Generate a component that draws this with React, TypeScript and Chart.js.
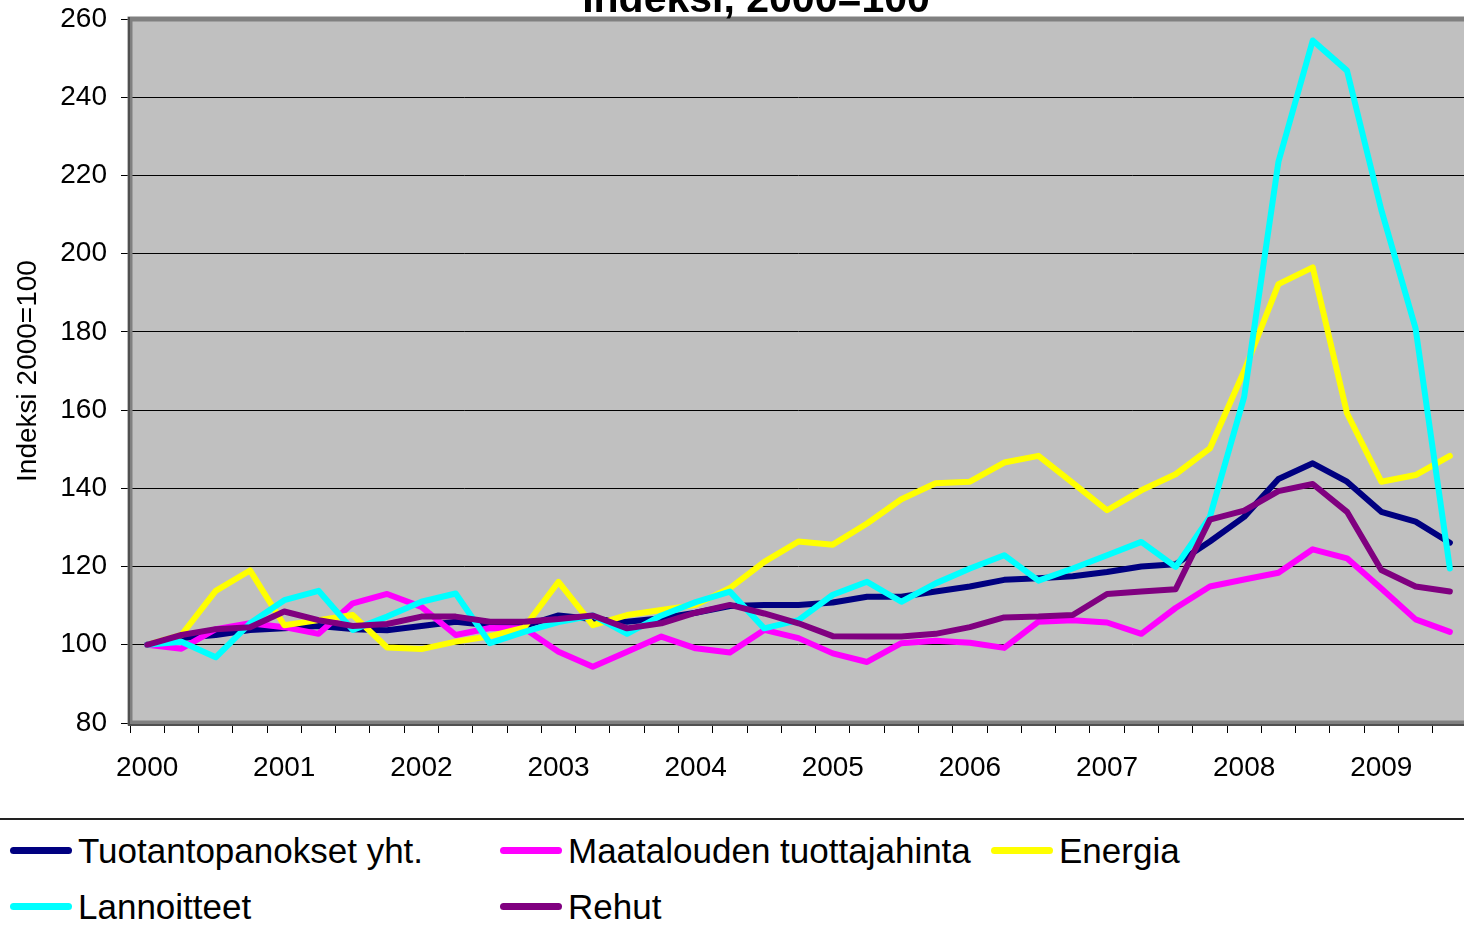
import React, { useEffect, useRef } from "react";
import { Chart, registerables } from "chart.js";

Chart.register(...registerables);

const years = ["2000", "2001", "2002", "2003", "2004", "2005", "2006", "2007", "2008", "2009"];
const quarters = ["Q1", "Q2", "Q3", "Q4"];
const categories = years.flatMap((y) => quarters.map((q) => `${y} ${q}`)).slice(0, 39);

const tuotantopanokset = [100, 101.7, 102.5, 103.8, 104.2, 104.8, 104.0, 103.7, 104.8, 105.9, 105.0, 104.8, 107.5, 106.6, 105.9, 106.8, 108.2, 109.9, 110.2, 110.2, 110.8, 112.3, 112.3, 113.6, 114.9, 116.6, 117.0, 117.5, 118.6, 120.0, 120.6, 126.4, 132.7, 142.4, 146.4, 141.7, 134.0, 131.5, 126.1];
const maatalous = [100, 99.0, 104.0, 105.5, 104.5, 102.8, 110.6, 113.0, 109.7, 102.5, 104.3, 104.2, 98.2, 94.4, 98.2, 102.1, 99.1, 98.0, 103.8, 101.7, 97.8, 95.6, 100.4, 101.0, 100.5, 99.2, 105.9, 106.3, 105.7, 102.8, 109.4, 114.9, 116.7, 118.4, 124.4, 122.1, 114.4, 106.5, 103.3];
const energia = [100, 102.5, 113.8, 119.0, 105.0, 106.3, 107.6, 99.3, 98.9, 100.8, 102.2, 104.4, 116.1, 105.0, 107.6, 108.9, 110.2, 114.5, 121.2, 126.4, 125.6, 131.0, 137.2, 141.3, 141.7, 146.6, 148.3, 141.4, 134.4, 139.5, 143.6, 150.2, 170.0, 192.2, 196.5, 159.2, 141.7, 143.4, 148.3];
const lannoitteet = [100, 100.8, 96.8, 105.5, 111.4, 113.8, 103.8, 107.2, 111.0, 113.1, 100.4, 103.3, 105.8, 107.5, 102.8, 107.5, 110.9, 113.6, 104.2, 106.3, 112.8, 116.1, 111.0, 115.7, 119.5, 122.9, 116.4, 119.5, 122.9, 126.3, 119.9, 132.7, 163.4, 223.5, 254.5, 246.8, 211.2, 180.9, 119.5];
const rehut = [100, 102.5, 104.0, 104.5, 108.5, 106.3, 104.8, 105.3, 107.2, 107.2, 105.9, 105.9, 106.6, 107.5, 104.2, 105.5, 108.2, 110.2, 108.0, 105.5, 102.2, 102.1, 102.1, 102.8, 104.5, 107.0, 107.2, 107.6, 113.0, 113.6, 114.2, 132.0, 134.3, 139.3, 141.1, 134.0, 119.1, 114.9, 113.6];

const seriesNames = ["Tuotantopanokset yht.", "Maatalouden tuottajahinta", "Energia", "Lannoitteet", "Rehut"];
const seriesColors = ["#000080", "#FF00FF", "#FFFF00", "#00FFFF", "#800080"];
const seriesValues = [tuotantopanokset, maatalous, energia, lannoitteet, rehut];

const chartTitle = "Indeksi, 2000=100";
const yAxisTitle = "Indeksi 2000=100";

const FONT = '"Liberation Sans", Arial, sans-serif';

const plotFrame = {
  id: "plotFrame",
  beforeDraw(chart: any) {
    const { ctx, chartArea } = chart;
    const { left, top, right, bottom } = chartArea;
    ctx.save();
    ctx.fillStyle = "#C0C0C0";
    ctx.fillRect(left, top, right - left, bottom - top);
    ctx.restore();
  },
  beforeDatasetsDraw(chart: any) {
    const { ctx, chartArea } = chart;
    const { left, top, right, bottom } = chartArea;
    ctx.save();
    ctx.strokeStyle = "#808080";
    ctx.lineWidth = 5;
    ctx.strokeRect(left, top, right - left, bottom - top);
    ctx.strokeStyle = "#505050";
    ctx.lineWidth = 2;
    ctx.beginPath();
    ctx.moveTo(left - 1, top - 2);
    ctx.lineTo(left - 1, bottom + 2);
    ctx.lineTo(right, bottom + 2);
    ctx.stroke();
    ctx.restore();
  },
};

function zeroPadding(scale: any) {
  scale.paddingTop = 0;
  scale.paddingBottom = 0;
  scale.paddingLeft = 0;
  scale.paddingRight = 0;
}

function LineChart() {
  const ref = useRef<HTMLCanvasElement | null>(null);
  useEffect(() => {
    if (!ref.current) return;
    const chart = new Chart(ref.current, {
      type: "line",
      data: {
        labels: categories,
        datasets: seriesValues.map((vals, i) => ({
          label: seriesNames[i],
          data: vals,
          borderColor: seriesColors[i],
          backgroundColor: seriesColors[i],
          borderWidth: 6,
          pointRadius: 0,
          pointHoverRadius: 0,
          tension: 0,
          fill: false,
          borderCapStyle: "round" as const,
          borderJoinStyle: "round" as const,
          order: seriesValues.length - i,
        })),
      },
      options: {
        responsive: false,
        animation: false,
        events: [],
        layout: { padding: { left: 0, right: 13, top: 19, bottom: 0 } },
        plugins: {
          legend: { display: false },
          title: { display: false },
          tooltip: { enabled: false },
        },
        scales: {
          x: {
            type: "category",
            offset: true,
            afterFit: (scale: any) => {
              scale.height = 77;
              zeroPadding(scale);
            },
            grid: {
              display: true,
              offset: true,
              drawOnChartArea: false,
              drawTicks: true,
              tickLength: 10,
              color: "#000",
              tickColor: "#000",
              lineWidth: 1,
            },
            border: { display: false },
            ticks: {
              autoSkip: false,
              maxRotation: 0,
              minRotation: 0,
              padding: 18,
              color: "#000",
              font: { family: FONT, size: 28 },
              callback: (_v: any, idx: number) => (idx % 4 === 0 ? years[idx / 4] : ""),
            },
          },
          y: {
            min: 80,
            max: 260,
            afterFit: (scale: any) => {
              scale.width = 130;
              zeroPadding(scale);
            },
            grid: {
              color: "#000",
              tickColor: "#000",
              lineWidth: 1,
              drawTicks: true,
              tickLength: 9,
            },
            border: { display: false },
            ticks: {
              stepSize: 20,
              padding: 14,
              color: "#000",
              font: { family: FONT, size: 28 },
            },
            title: {
              display: true,
              text: yAxisTitle,
              color: "#000",
              font: { family: FONT, size: 28 },
              padding: { top: 11, bottom: 0 },
            },
          },
        },
      },
      plugins: [plotFrame],
    });
    return () => chart.destroy();
  }, []);
  return (
    <canvas
      ref={ref}
      width={1480}
      height={800}
      style={{ position: "absolute", left: 0, top: 0, width: 1480, height: 800 }}
    />
  );
}

export default function App() {
  const legendRows = [
    [0, 1, 2],
    [3, 4],
  ];
  const colX = [10, 500, 991];
  const rowCenter = [850, 906];
  return (
    <div
      style={{
        position: "fixed",
        left: 0,
        top: 0,
        width: 1464,
        height: 935,
        overflow: "hidden",
        background: "#fff",
        fontFamily: FONT,
      }}
    >
      <LineChart />
      <div
        style={{
          position: "absolute",
          left: 756,
          top: -22,
          transform: "translateX(-50%)",
          whiteSpace: "nowrap",
          fontWeight: "bold",
          fontSize: 41,
          lineHeight: "41px",
          color: "#000",
        }}
      >
        {chartTitle}
      </div>
      <div
        style={{
          position: "absolute",
          left: 0,
          top: 818,
          width: 1464,
          height: 2,
          background: "#222",
        }}
      />
      {legendRows.map((row, r) =>
        row.map((si, c) => (
          <React.Fragment key={si}>
            <div
              style={{
                position: "absolute",
                left: colX[c],
                top: rowCenter[r] - 3.5,
                width: 62,
                height: 7,
                borderRadius: 4,
                background: seriesColors[si],
              }}
            />
            <div
              style={{
                position: "absolute",
                left: colX[c] + 68,
                top: rowCenter[r] - 17,
                fontSize: 35,
                lineHeight: "35px",
                whiteSpace: "nowrap",
                color: "#000",
              }}
            >
              {seriesNames[si]}
            </div>
          </React.Fragment>
        ))
      )}
    </div>
  );
}
